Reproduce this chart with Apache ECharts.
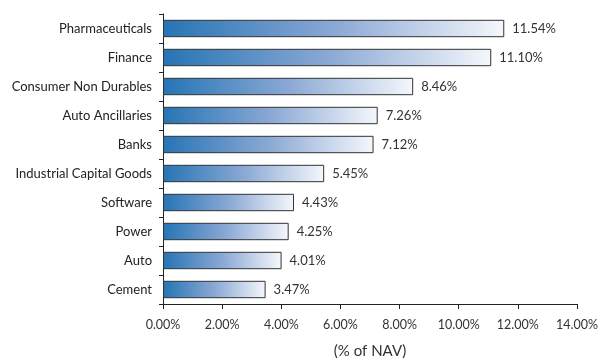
<!DOCTYPE html>
<html>
<head>
<meta charset="utf-8">
<script src="https://cdn.jsdelivr.net/npm/echarts@6/dist/echarts.min.js"></script>
<style>
html, body { margin: 0; padding: 0; background: #fff; }
#chart { width: 600px; height: 363px; }
</style>
</head>
<body>
<div id="chart"></div>
<script>
// Sector allocation, top to bottom
const sectors = [
  'Pharmaceuticals', 'Finance', 'Consumer Non Durables', 'Auto Ancillaries', 'Banks',
  'Industrial Capital Goods', 'Software', 'Power', 'Auto', 'Cement'
];
const navShare = [11.54, 11.10, 8.46, 7.26, 7.12, 5.45, 4.43, 4.25, 4.01, 3.47];
const axisMax = 14;
const axisStep = 2;
const axisTitle = '(% of NAV)';

const FONT = 'Lato';
const chart = echarts.init(document.getElementById('chart'));

chart.setOption({
  animation: false,
  grid: {
    left: 163, right: 23, top: 14, bottom: 59,
    containLabel: false,
    outerBoundsMode: 'none'
  },
  xAxis: {
    type: 'value',
    min: 0,
    max: axisMax,
    interval: axisStep,
    name: axisTitle,
    nameLocation: 'middle',
    nameGap: 40,
    nameTextStyle: { fontFamily: FONT, fontSize: 15, color: '#333' },
    axisLine: { show: true, lineStyle: { color: '#222', width: 1 } },
    axisTick: { show: true, length: 5, lineStyle: { color: '#222' } },
    axisLabel: {
      fontFamily: FONT, fontSize: 12.5, color: '#333', margin: 14,
      formatter: v => v.toFixed(2) + '%'
    },
    splitLine: { show: false }
  },
  yAxis: {
    type: 'category',
    data: sectors,
    inverse: true,
    axisLine: { show: true, lineStyle: { color: '#222', width: 1 } },
    axisTick: { show: true, length: 4, lineStyle: { color: '#222' } },
    axisLabel: { fontFamily: FONT, fontSize: 13, color: '#222', margin: 11 }
  },
  series: [{
    type: 'bar',
    data: navShare,
    barWidth: '60%',
    itemStyle: {
      borderColor: '#333',
      borderWidth: 1,
      color: new echarts.graphic.LinearGradient(0, 0, 1, 0, [
        { offset: 0, color: '#2674b5' },
        { offset: 0.5, color: '#8aa8d4' },
        { offset: 1, color: '#f5f7fc' }
      ])
    },
    label: {
      show: true,
      position: 'right',
      distance: 8,
      fontFamily: FONT,
      fontSize: 13,
      color: '#333',
      formatter: p => p.value.toFixed(2) + '%'
    }
  }]
});
</script>
</body>
</html>
